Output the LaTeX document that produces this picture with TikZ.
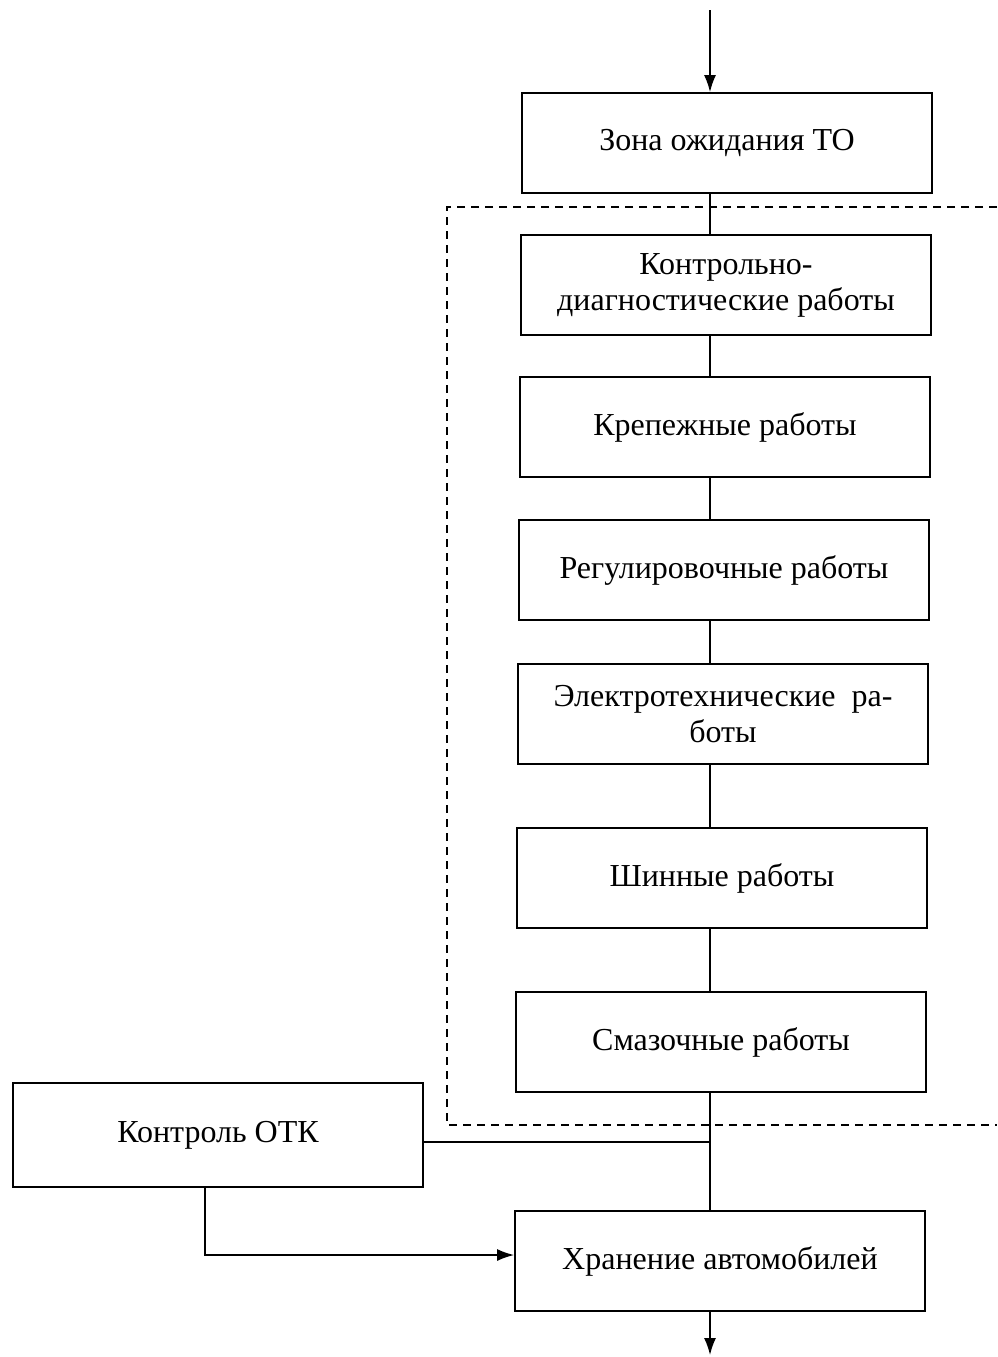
\documentclass[tikz,border=0pt]{standalone}
\usepackage{fontspec}
\setmainfont{Liberation Serif}
\usetikzlibrary{arrows.meta, positioning}

\begin{document}
\begin{tikzpicture}[x=1pt, y=-1pt,
    box/.style={draw, line width=1.8pt, minimum width=410pt, minimum height=100pt,
        inner sep=0pt, align=center, font=\fontsize{32}{36}\selectfont},
    link/.style={line width=1.6pt},
    arr/.style={line width=1.6pt, -{Latex[length=17pt,width=12pt]}}]
    \useasboundingbox (0,0) rectangle (997,1357);

    % TO zone (dashed frame, right side off the page)
    \draw[line width=1.4pt, dash pattern=on 8pt off 6pt]
        (997,207) -- (447,207) -- (447,1125) -- (997,1125);

    % main chain
    \node[box] (zone) at (727,143) {Зона ожидания ТО};
    \node[box] (diag) at (726,285) {Контрольно-\\диагностические работы};
    \node[box] (krep) at (725,427) {Крепежные работы};
    \node[box] (reg)  at (724,570) {Регулировочные работы};
    \node[box] (elek) at (723,714) {Электротехнические\ \ ра-\\боты};
    \node[box] (shin) at (722,878) {Шинные работы};
    \node[box] (smaz) at (721,1042) {Смазочные работы};
    \node[box] (hran) at (720,1261) {Хранение автомобилей};
    % side box
    \node[box, minimum height=104pt] (otk) at (218,1135) {Контроль ОТК};

    \coordinate (spine)  at (710,0);
    \coordinate (entry)  at (710,10);
    \coordinate (exit)   at (710,1355);
    \coordinate (joint)  at (710,1142);
    \coordinate (bend)   at (205,1255);

    % connectors
    \draw[arr] (entry) -- (zone.north -| spine);
    \foreach \a/\b in {zone/diag, diag/krep, krep/reg, reg/elek, elek/shin, shin/smaz, smaz/hran}
        \draw[link] (\a.south -| spine) -- (\b.north -| spine);
    \draw[link] (otk.east |- joint) -- (joint);
    \draw[arr] (otk.south -| bend) -- (bend) -- (hran.west |- bend);
    \draw[arr] (hran.south -| spine) -- (exit);
\end{tikzpicture}
\end{document}
